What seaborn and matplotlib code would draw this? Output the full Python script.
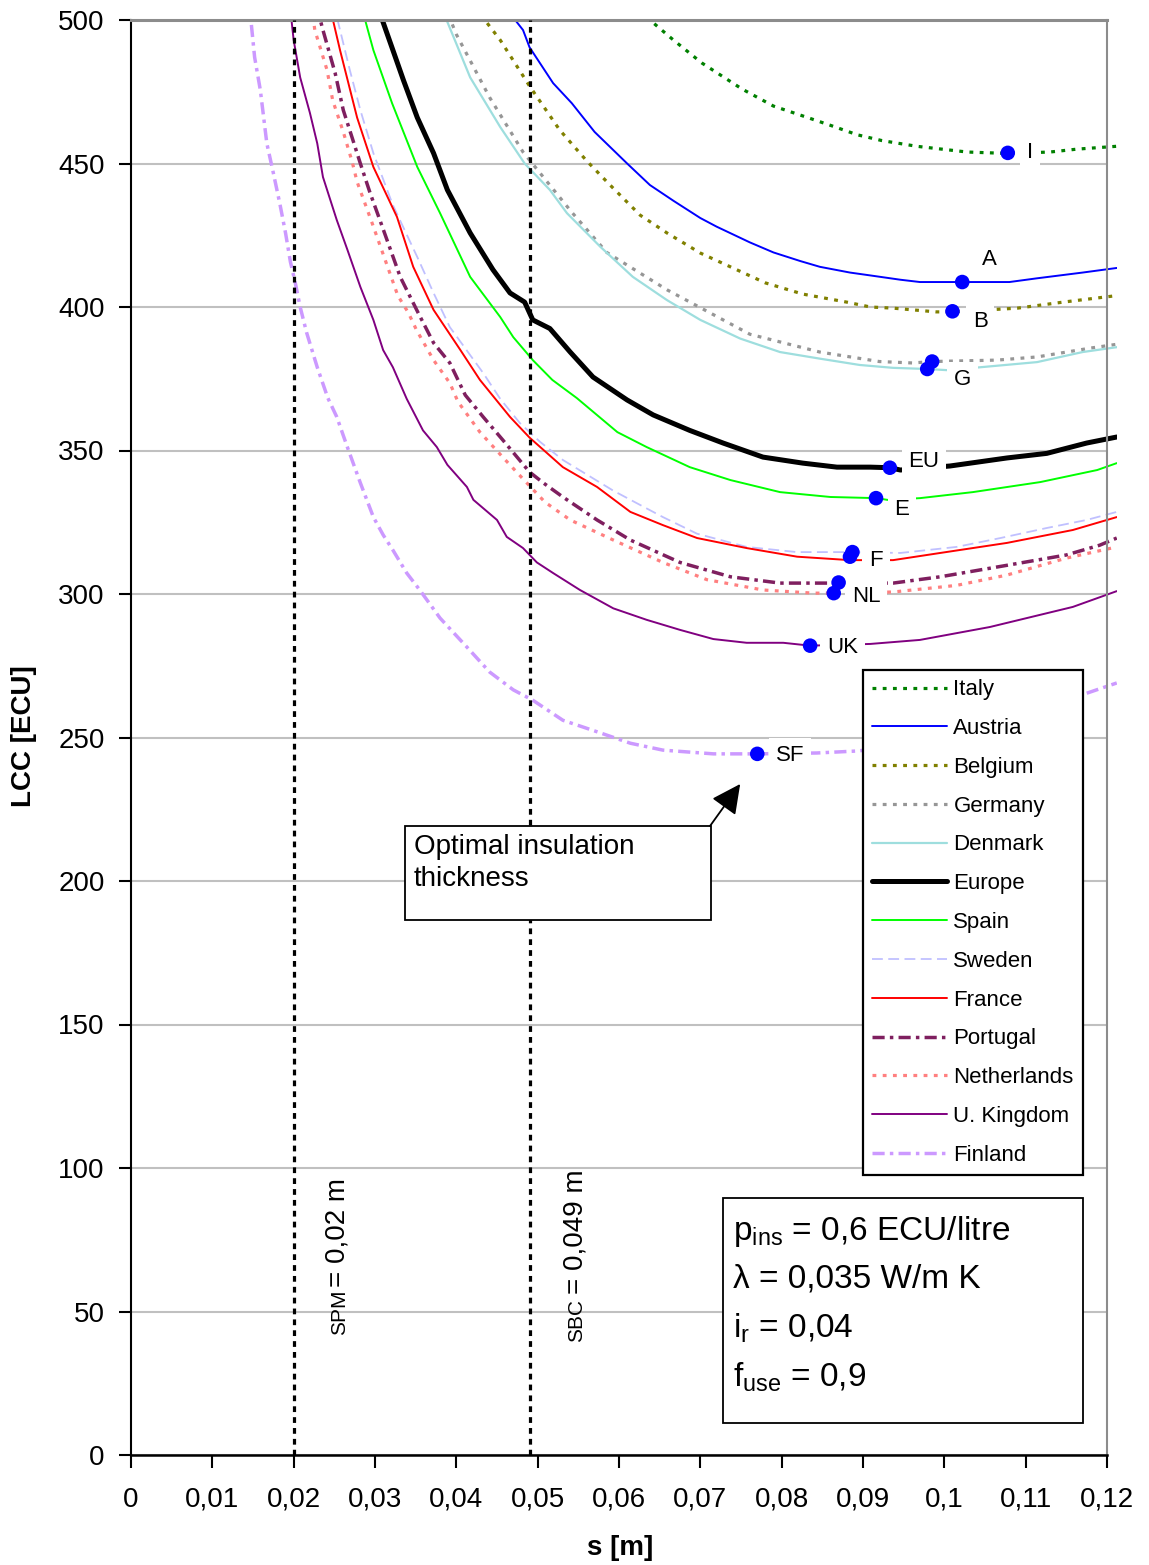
import matplotlib
matplotlib.use("Agg")
import matplotlib.pyplot as plt
import seaborn as sns
import pandas as pd
from matplotlib.patches import Rectangle

# ---------------- data ----------------
italy_s = [0.0620, 0.0638, 0.0667, 0.0702, 0.0751, 0.0790, 0.0832, 0.0863, 0.0893, 0.0923, 0.0966, 0.1028, 0.1078, 0.1130, 0.1163, 0.1212]
italy_y = [508, 500, 493, 485, 476, 470, 466, 463, 460, 458, 456, 454, 453.5, 454, 455, 456]

austria_s = [0.0455, 0.0464, 0.0482, 0.0490, 0.0519, 0.0542, 0.0570, 0.0610, 0.0638, 0.0667, 0.0700, 0.0720, 0.0761, 0.0790, 0.0823, 0.0847, 0.0884, 0.0909, 0.0946, 0.0970, 0.1022, 0.1080, 0.1114, 0.1170, 0.1212]
austria_y = [507, 503, 496.5, 490.5, 478, 471, 461, 450, 442.5, 437, 431, 428, 422.5, 419, 416, 414, 412, 411, 409.5, 408.7, 408.7, 408.7, 410, 412, 413.6]

belgium_s = [0.0425, 0.0435, 0.0454, 0.0490, 0.0527, 0.0560, 0.0589, 0.0626, 0.0659, 0.0700, 0.0740, 0.0780, 0.0826, 0.0880, 0.0909, 0.0937, 0.0990, 0.1010, 0.1090, 0.1146, 0.1207, 0.1212]
belgium_y = [505, 500, 493, 477, 461.7, 451, 442.5, 432, 425.8, 418.8, 413.6, 408.4, 404.5, 401.7, 400, 399.6, 398.3, 398.3, 399.6, 401.7, 403.8, 404]

germany_s = [0.0385, 0.0390, 0.0400, 0.0441, 0.0482, 0.0542, 0.0585, 0.0659, 0.0761, 0.0847, 0.0920, 0.0961, 0.0985, 0.1065, 0.1114, 0.1180, 0.1212]
germany_y = [505, 502, 495, 473, 454, 433, 419, 406, 390.5, 384.3, 381, 380.5, 381, 381.5, 382.6, 385.7, 387]

denmark_s = [0.0380, 0.0388, 0.0417, 0.0454, 0.0484, 0.0515, 0.0536, 0.0577, 0.0617, 0.0659, 0.0700, 0.0749, 0.0798, 0.0847, 0.0896, 0.0937, 0.0979, 0.1003, 0.1044, 0.1114, 0.1170, 0.1212]
denmark_y = [506, 500, 480, 462.7, 450, 440.8, 432.7, 421, 410.5, 402.4, 395.5, 389, 384.3, 382, 379.8, 378.8, 378.4, 378, 379, 380.8, 384.3, 386]

europe_s = [0.0300, 0.0304, 0.0322, 0.0335, 0.0352, 0.0372, 0.0389, 0.0417, 0.0445, 0.0466, 0.0484, 0.0494, 0.0515, 0.0540, 0.0568, 0.0610, 0.0642, 0.0687, 0.0728, 0.0777, 0.0826, 0.0868, 0.0909, 0.0933, 0.0946, 0.1007, 0.1077, 0.1126, 0.1175, 0.1212]
europe_y = [506, 504, 489.5, 479, 466, 453.6, 440.8, 425.8, 413, 404.9, 401.7, 395.5, 392.5, 384.3, 375.6, 367.6, 362.4, 357, 352.6, 347.7, 345.6, 344.2, 344.2, 344, 343.2, 344.6, 347.4, 349, 352.6, 354.7]

spain_s = [0.0280, 0.0284, 0.0298, 0.0321, 0.0352, 0.0380, 0.0417, 0.0454, 0.0470, 0.0494, 0.0518, 0.0548, 0.0598, 0.0634, 0.0687, 0.0737, 0.0798, 0.0860, 0.0917, 0.0930, 0.0970, 0.1035, 0.1118, 0.1188, 0.1212]
spain_y = [506, 504, 489.5, 471, 448.8, 432.7, 410.5, 396.5, 389.5, 381.5, 374.6, 368.3, 356.4, 351.2, 344.2, 339.7, 335.5, 333.8, 333.4, 332.8, 333.4, 335.5, 339, 343.2, 345.6]

sweden_s = [0.0250, 0.0254, 0.0269, 0.0282, 0.0298, 0.0322, 0.0352, 0.0372, 0.0392, 0.0433, 0.0454, 0.0478, 0.0503, 0.0531, 0.0593, 0.0654, 0.0696, 0.0757, 0.0819, 0.0887, 0.0946, 0.1015, 0.1069, 0.1126, 0.1175, 0.1212]
sweden_y = [506, 500, 482.6, 468.6, 453.6, 435.5, 417.4, 404.9, 393, 377, 368, 359.6, 353, 346.7, 336, 326.8, 321, 316.4, 314.6, 314.6, 314.3, 316.4, 319.5, 323, 325.8, 328.6]

france_s = [0.0240, 0.0245, 0.0257, 0.0278, 0.0298, 0.0327, 0.0347, 0.0372, 0.0405, 0.0429, 0.0466, 0.0490, 0.0531, 0.0573, 0.0614, 0.0654, 0.0696, 0.0757, 0.0819, 0.0884, 0.0937, 0.0995, 0.1077, 0.1158, 0.1212]
france_y = [507, 504, 489.5, 466, 448.8, 431.4, 414, 399, 385, 374.6, 361.7, 354.5, 344.2, 337.3, 328.6, 324, 319.5, 316, 313, 311.8, 311.8, 314.3, 317.8, 322.3, 326.8]

portugal_s = [0.0228, 0.0236, 0.0251, 0.0261, 0.0272, 0.0282, 0.0294, 0.0306, 0.0331, 0.0353, 0.0372, 0.0392, 0.0411, 0.0433, 0.0457, 0.0490, 0.0507, 0.0531, 0.0573, 0.0614, 0.0675, 0.0737, 0.0798, 0.0870, 0.0937, 0.0995, 0.1077, 0.1150, 0.1191, 0.1212]
portugal_y = [505, 496.5, 481.5, 468.6, 458.9, 450, 439.7, 430.3, 410.5, 398, 387.5, 380.5, 369.3, 361.7, 353.7, 342.5, 338.7, 333.8, 325.8, 318.8, 311, 306, 303.8, 303.8, 303.8, 306, 310, 313.6, 317, 319.5]

netherlands_s = [0.0222, 0.0226, 0.0241, 0.0248, 0.0261, 0.0272, 0.0278, 0.0296, 0.0306, 0.0328, 0.0341, 0.0351, 0.0372, 0.0392, 0.0402, 0.0429, 0.0457, 0.0481, 0.0509, 0.0540, 0.0593, 0.0654, 0.0708, 0.0777, 0.0839, 0.0864, 0.0937, 0.1015, 0.1077, 0.1150, 0.1212]
netherlands_y = [505, 496.5, 482.6, 472, 461, 450.5, 443.6, 429.6, 421.6, 404, 398, 392, 381.5, 373.5, 367, 356.4, 347.7, 340.4, 332, 325.8, 318.8, 311, 305, 301.4, 300.3, 300.3, 300.7, 303, 306.6, 312.5, 316.4]

uk_s = [0.0195, 0.0200, 0.0208, 0.0220, 0.0229, 0.0236, 0.0253, 0.0266, 0.0282, 0.0298, 0.0310, 0.0322, 0.0339, 0.0359, 0.0376, 0.0389, 0.0413, 0.0421, 0.0450, 0.0462, 0.0482, 0.0499, 0.0519, 0.0552, 0.0593, 0.0634, 0.0675, 0.0716, 0.0757, 0.0802, 0.0835, 0.0909, 0.0970, 0.1056, 0.1158, 0.1212]
uk_y = [506, 493, 480, 467.6, 457, 445.3, 430.3, 420, 407, 395.5, 385, 379, 368, 357, 351.2, 345, 337.3, 332.8, 325.8, 319.9, 316, 311, 307.3, 301.4, 295, 291, 287.5, 284.3, 283, 283, 282, 282.6, 284, 288.5, 295.5, 301]

finland_s = [0.0144, 0.0146, 0.0152, 0.0159, 0.0167, 0.0175, 0.0183, 0.0190, 0.0196, 0.0202, 0.0208, 0.0216, 0.0229, 0.0242, 0.0253, 0.0266, 0.0282, 0.0298, 0.0310, 0.0322, 0.0339, 0.0355, 0.0380, 0.0413, 0.0441, 0.0470, 0.0494, 0.0531, 0.0573, 0.0614, 0.0654, 0.0716, 0.0770, 0.0843, 0.0893, 0.0950, 0.1000, 0.1050, 0.1100, 0.1150, 0.1212]
finland_y = [510, 504, 487, 475.6, 457, 446.7, 436, 425.8, 415.7, 408.4, 400, 391, 379, 368.3, 361.7, 351.2, 338.7, 326.8, 320.6, 315.3, 307.3, 301.4, 291.6, 281.5, 272.8, 266.6, 263, 256, 252, 248, 245.6, 244.3, 244.3, 244.6, 245.3, 247, 250, 254, 258, 263, 269]

country_names = ["Italy", "Austria", "Belgium", "Germany", "Denmark", "Europe", "Spain",
                 "Sweden", "France", "Portugal", "Netherlands", "U. Kingdom", "Finland"]

# optimal points (minima) and their labels
opt_s = [0.1078, 0.1022, 0.1010, 0.0985, 0.0979, 0.0933, 0.0916, 0.0887, 0.0884, 0.0870, 0.0864, 0.0835, 0.0770]
opt_y = [453.7, 408.7, 398.5, 381.0, 378.4, 344.0, 333.4, 314.6, 313.0, 304.0, 300.3, 282.0, 244.3]
opt_labels = ["I", "A", "B", "G", "EU", "E", "F", "NL", "UK", "SF"]
opt_label_s = [0.1105, 0.1056, 0.1044, 0.1022, 0.0975, 0.0948, 0.0916, 0.0904, 0.0875, 0.0810]
opt_label_y = [453.7, 416.4, 395.1, 374.9, 346.0, 329.3, 311.8, 299.3, 281.2, 243.6]

xtick_vals = [0, 0.01, 0.02, 0.03, 0.04, 0.05, 0.06, 0.07, 0.08, 0.09, 0.10, 0.11, 0.12]
xtick_labels = ["0", "0,01", "0,02", "0,03", "0,04", "0,05", "0,06", "0,07", "0,08", "0,09", "0,1", "0,11", "0,12"]
ytick_vals = [0, 50, 100, 150, 200, 250, 300, 350, 400, 450, 500]

s_pm = 0.02
s_bc = 0.049

# ---------------- styling ----------------
data = {
    "Italy": (italy_s, italy_y), "Austria": (austria_s, austria_y), "Belgium": (belgium_s, belgium_y),
    "Germany": (germany_s, germany_y), "Denmark": (denmark_s, denmark_y), "Europe": (europe_s, europe_y),
    "Spain": (spain_s, spain_y), "Sweden": (sweden_s, sweden_y), "France": (france_s, france_y),
    "Portugal": (portugal_s, portugal_y), "Netherlands": (netherlands_s, netherlands_y),
    "U. Kingdom": (uk_s, uk_y), "Finland": (finland_s, finland_y),
}
styles = {
    "Italy": ("#008000", (0, (1.2, 2.0)), 2.3),
    "Austria": ("#0000FF", "-", 1.4),
    "Belgium": ("#808000", (0, (1.2, 2.0)), 2.3),
    "Germany": ("#969696", (0, (1.2, 2.0)), 2.3),
    "Denmark": ("#9EDEDE", "-", 1.6),
    "Europe": ("#000000", "-", 3.6),
    "Spain": ("#00FF00", "-", 1.4),
    "Sweden": ("#C0C0FF", (0, (6, 3)), 1.3),
    "France": ("#FF0000", "-", 1.4),
    "Portugal": ("#7F1F5F", (0, (3.5, 1.5, 1, 1.5)), 2.5),
    "Netherlands": ("#FF8080", (0, (1.2, 2.0)), 2.3),
    "U. Kingdom": ("#800080", "-", 1.4),
    "Finland": ("#CC99FF", (0, (3.5, 1.5, 1, 1.5)), 2.5),
}

sns.set_theme(style="white")
plt.rcParams["font.family"] = ["Liberation Sans", "DejaVu Sans"]
plt.rcParams["mathtext.fontset"] = "custom"
plt.rcParams["mathtext.rm"] = "Liberation Sans"
plt.rcParams["mathtext.it"] = "Liberation Sans"
plt.rcParams["text.color"] = "black"
plt.rcParams["axes.labelcolor"] = "black"
plt.rcParams["xtick.color"] = "black"
plt.rcParams["ytick.color"] = "black"

W, H = 1149, 1565
fig = plt.figure(figsize=(W / 100, H / 100), dpi=100)
ax = fig.add_axes([131 / W, 110 / H, 976 / W, 1435 / H])

clip_rect = Rectangle((0, 0), 1.0105, 1.0, transform=ax.transAxes)

handles = []
for name in country_names:
    xs, ys = data[name]
    col, ls, lw = styles[name]
    df = pd.DataFrame({"s": xs, "LCC": ys})
    n_before = len(ax.lines)
    sns.lineplot(data=df, x="s", y="LCC", ax=ax, color=col, linewidth=lw,
                 linestyle=ls, errorbar=None, sort=False, zorder=2)
    line = ax.lines[n_before]
    line.set_clip_path(clip_rect)
    handles.append(line)

# vertical reference lines
for xv in [s_pm, s_bc]:
    ax.axvline(xv, color="black", linewidth=2.3, linestyle=(0, (1.8, 1.6)), zorder=3)

# optimum markers
sns.scatterplot(x=opt_s, y=opt_y, ax=ax, color="#0000FF", s=110, edgecolor="none",
                zorder=6, legend=False)

for lab, lx, ly in zip(opt_labels, opt_label_s, opt_label_y):
    ax.text(lx, ly, lab, fontsize=16, ha="center", va="center", zorder=4,
            bbox=dict(facecolor="white", edgecolor="none", pad=5))

ax.set_xlim(0, 0.12)
ax.set_ylim(0, 500)
ax.set_xticks(xtick_vals)
ax.set_xticklabels(xtick_labels)
ax.set_yticks(ytick_vals)
ax.tick_params(axis="both", which="both", bottom=True, left=True, direction="out",
               length=9, width=1.5, color="black", labelsize=20, labelcolor="black")
ax.tick_params(axis="x", pad=14)
ax.tick_params(axis="y", pad=10)

ax.yaxis.grid(True, color="#C0C0C0", linewidth=1.5)
ax.xaxis.grid(False)
ax.set_axisbelow(True)

ax.spines["left"].set_color("black")
ax.spines["left"].set_linewidth(1.5)
ax.spines["bottom"].set_color("black")
ax.spines["bottom"].set_linewidth(1.8)
ax.spines["top"].set_color("#8C8C8C")
ax.spines["top"].set_linewidth(2.2)
ax.spines["right"].set_color("#8C8C8C")
ax.spines["right"].set_linewidth(1.5)

ax.set_xlabel("s [m]", fontsize=20, fontweight="bold", color="black")
ax.xaxis.set_label_coords(0.501, -0.056)
ax.set_ylabel("LCC [ECU]", fontsize=20, fontweight="bold", color="black")
ax.yaxis.set_label_coords(-0.096, 0.501)

# legend
leg = ax.legend(handles, country_names, loc="upper right", bbox_to_anchor=(0.9754, 0.547),
                borderaxespad=0, fontsize=16, frameon=True, fancybox=False,
                edgecolor="black", framealpha=1, handlelength=3.35, handletextpad=0.3,
                labelspacing=0.80, borderpad=0.42)
leg.get_frame().set_linewidth(1.6)
leg.set_zorder(10)
for t in leg.get_texts():
    t.set_color("black")

# vertical annotation texts
ax.text(0.0263, 41.8, "SPM", fontsize=15, rotation=90, rotation_mode="anchor",
        ha="left", va="baseline", zorder=4)
ax.text(0.0263, 58.5, "= 0,02 m", fontsize=20, rotation=90, rotation_mode="anchor",
        ha="left", va="baseline", zorder=4)
ax.text(0.0555, 39.4, "SBC", fontsize=15, rotation=90, rotation_mode="anchor",
        ha="left", va="baseline", zorder=4)
ax.text(0.0555, 56.1, "= 0,049 m", fontsize=20, rotation=90, rotation_mode="anchor",
        ha="left", va="baseline", zorder=4)

# "Optimal insulation thickness" callout
ax.add_patch(Rectangle((0.2807, 0.3728), 0.5943 - 0.2807, 0.4383 - 0.3728,
                       transform=ax.transAxes, facecolor="white", edgecolor="black",
                       linewidth=1.3, zorder=7))
ax.text(0.290, 0.433, "Optimal insulation\nthickness", transform=ax.transAxes,
        fontsize=20, ha="left", va="top", linespacing=1.32, zorder=8)
ax.annotate("", xy=(0.0749, 233.8), xytext=(0.0712, 219.2),
            arrowprops=dict(arrowstyle="-|>,head_length=0.9,head_width=0.45",
                            mutation_scale=20, color="black", lw=1.3,
                            shrinkA=0, shrinkB=0), zorder=8)

# parameter box
ax.add_patch(Rectangle((0.6066, 0.0223), 0.9754 - 0.6066, 0.1791 - 0.0223,
                       transform=ax.transAxes, facecolor="white", edgecolor="black",
                       linewidth=1.3, zorder=7))
param_lines = [r"p$_{\mathregular{ins}}$ = 0,6 ECU/litre", "λ = 0,035 W/m K",
               r"i$_{\mathregular{r}}$ = 0,04", r"f$_{\mathregular{use}}$ = 0,9"]
param_y = [0.1498, 0.1164, 0.0815, 0.0474]
for txt, yy in zip(param_lines, param_y):
    ax.text(0.6168, yy, txt, transform=ax.transAxes, fontsize=24, ha="left",
            va="baseline", zorder=8)

fig.savefig("out.png", dpi=100, facecolor="white")
